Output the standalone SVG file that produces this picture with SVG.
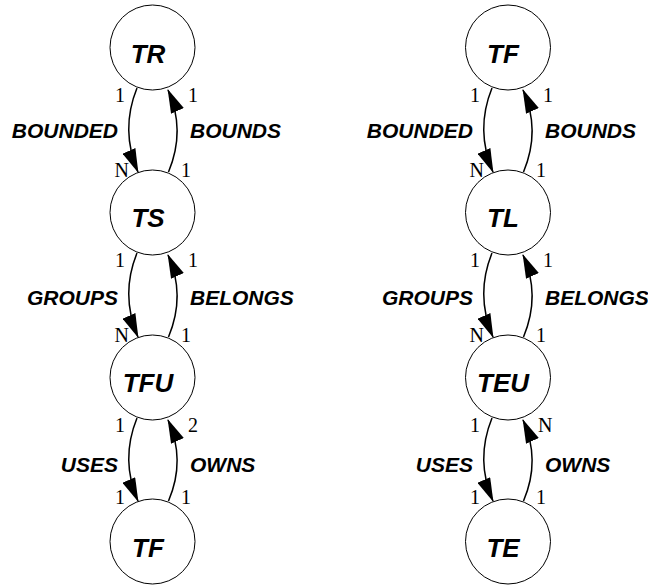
<svg xmlns="http://www.w3.org/2000/svg" width="648" height="587" viewBox="0 0 648 587">
<style>
.node{fill:#fff;stroke:#000;stroke-width:1}
.nl{font-family:"Liberation Sans",Arial,sans-serif;font-weight:bold;font-style:italic;font-size:26px;text-anchor:middle}
.el{font-family:"Liberation Sans",Arial,sans-serif;font-weight:bold;font-style:italic;font-size:21px}
.c{font-family:"Liberation Serif","Times New Roman",serif;font-size:20px}
.e{fill:none;stroke:#000;stroke-width:1.5;marker-end:url(#a)}
.s{text-anchor:start}.n{text-anchor:end}
</style>
<defs>
<marker id="a" markerUnits="userSpaceOnUse" markerWidth="24" markerHeight="14" refX="23" refY="7" orient="auto" viewBox="0 0 24 14"><path d="M0,0 L24,7 L0,14 z" fill="#000"/></marker>
</defs>
<g id="connectors">
<path class="e" d="M137,88 Q120,130 138,172"/>
<path class="e" d="M168.5,172 Q186,130 168,90"/>
<path class="e" d="M137,253 Q120,295 138,337"/>
<path class="e" d="M168.5,337 Q186,295 168,255"/>
<path class="e" d="M137,418 Q120,460 138,501"/>
<path class="e" d="M168.5,501 Q186,460 168,420"/>
<path class="e" d="M492,88 Q475,130 493,172"/>
<path class="e" d="M523.5,172 Q541,130 523,90"/>
<path class="e" d="M492,253 Q475,295 493,337"/>
<path class="e" d="M523.5,337 Q541,295 523,255"/>
<path class="e" d="M492,418 Q475,460 493,501"/>
<path class="e" d="M523.5,501 Q541,460 523,420"/>
</g>
<g id="labels">
<text class="el n" x="118" y="138">BOUNDED</text>
<text class="el s" x="190" y="138">BOUNDS</text>
<text class="el n" x="118" y="305">GROUPS</text>
<text class="el s" x="190" y="305">BELONGS</text>
<text class="el n" x="118" y="472">USES</text>
<text class="el s" x="190" y="472">OWNS</text>
<text class="el n" x="473" y="138">BOUNDED</text>
<text class="el s" x="545" y="138">BOUNDS</text>
<text class="el n" x="473" y="305">GROUPS</text>
<text class="el s" x="545" y="305">BELONGS</text>
<text class="el n" x="473" y="472">USES</text>
<text class="el s" x="545" y="472">OWNS</text>
<text class="c n" x="125" y="102">1</text>
<text class="c s" x="188" y="102">1</text>
<text class="c n" x="129" y="177">N</text>
<text class="c s" x="181" y="177">1</text>
<text class="c n" x="125" y="267">1</text>
<text class="c s" x="188" y="267">1</text>
<text class="c n" x="129" y="342">N</text>
<text class="c s" x="181" y="342">1</text>
<text class="c n" x="125" y="432">1</text>
<text class="c s" x="188" y="432">2</text>
<text class="c n" x="125" y="504">1</text>
<text class="c s" x="181" y="504">1</text>
<text class="c n" x="480" y="102">1</text>
<text class="c s" x="543" y="102">1</text>
<text class="c n" x="484" y="177">N</text>
<text class="c s" x="536" y="177">1</text>
<text class="c n" x="480" y="267">1</text>
<text class="c s" x="543" y="267">1</text>
<text class="c n" x="484" y="342">N</text>
<text class="c s" x="536" y="342">1</text>
<text class="c n" x="480" y="432">1</text>
<text class="c s" x="538" y="432">N</text>
<text class="c n" x="480" y="504">1</text>
<text class="c s" x="536" y="504">1</text>
</g>
<g id="TR"><circle class="node" cx="152.5" cy="47.5" r="42.5"/><text class="nl" x="148" y="62.5">TR</text></g>
<g id="TS"><circle class="node" cx="152.5" cy="212.5" r="42.5"/><text class="nl" x="148" y="227">TS</text></g>
<g id="TFU"><circle class="node" cx="152.5" cy="377.5" r="42.5"/><text class="nl" x="148" y="392">TFU</text></g>
<g id="TF1"><circle class="node" cx="152.5" cy="541.5" r="42.5"/><text class="nl" x="148" y="556.5">TF</text></g>
<g id="TF2"><circle class="node" cx="508" cy="47.5" r="42.5"/><text class="nl" x="503" y="62.5">TF</text></g>
<g id="TL"><circle class="node" cx="508" cy="212.5" r="42.5"/><text class="nl" x="503" y="227">TL</text></g>
<g id="TEU"><circle class="node" cx="508" cy="377.5" r="42.5"/><text class="nl" x="503" y="392">TEU</text></g>
<g id="TE"><circle class="node" cx="508" cy="541.5" r="42.5"/><text class="nl" x="503" y="556.5">TE</text></g>
</svg>
